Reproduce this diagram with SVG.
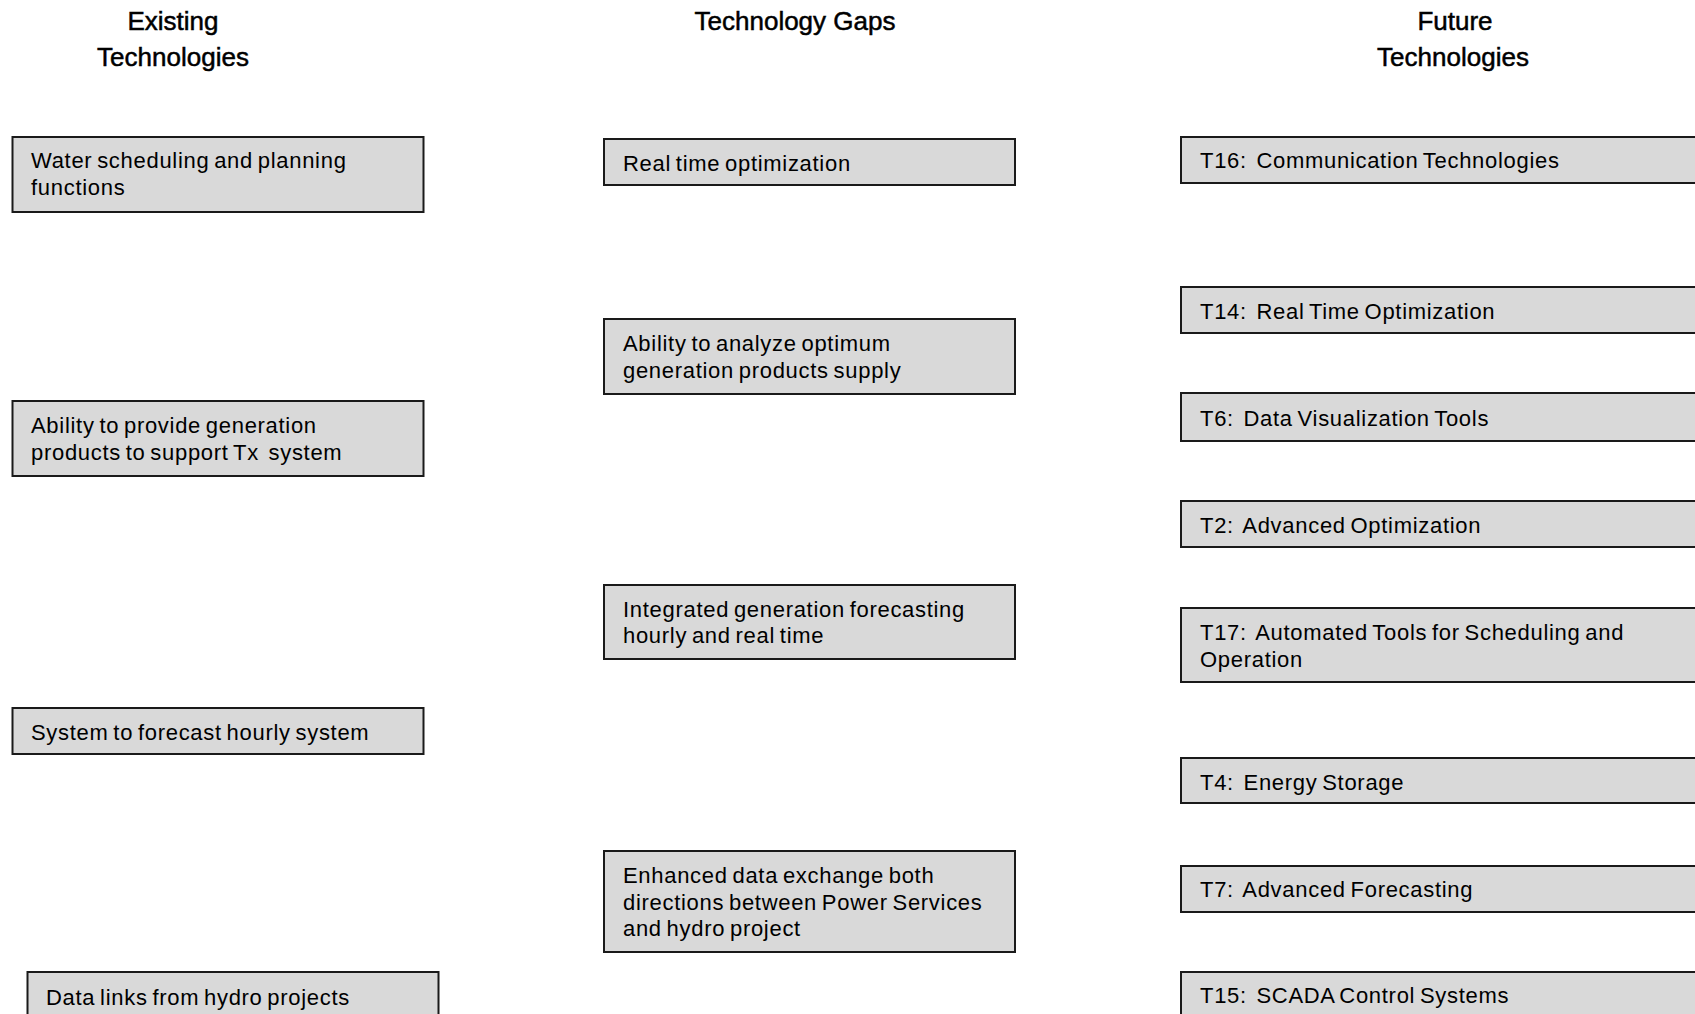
<svg xmlns="http://www.w3.org/2000/svg" width="1695" height="1014" viewBox="0 0 1695 1014" xml:space="preserve">
<style>
.hd{font-family:"Liberation Sans",Arial,sans-serif;font-size:26px;fill:#000;stroke:#000;stroke-width:0.5;text-anchor:middle}
.bx{fill:#d9d9d9;stroke:#1a1a1a;stroke-width:2}
.tx{font-family:"Liberation Sans",Arial,sans-serif;font-size:22px;fill:#000;letter-spacing:0.7px;word-spacing:-2px;white-space:pre}
</style>
<rect x="0" y="0" width="1695" height="1014" fill="#fff"/>
<g id="headers">
<text class="hd" x="173" y="30">Existing</text>
<text class="hd" x="173" y="66">Technologies</text>
<text class="hd" x="795" y="30">Technology Gaps</text>
<text class="hd" x="1455" y="30">Future</text>
<text class="hd" x="1453" y="66">Technologies</text>
</g>
<g id="connectors"></g>
<g id="e1"><rect class="bx" x="12.5" y="137" width="411" height="75"/><text class="tx" x="31" y="168">Water scheduling and planning</text><text class="tx" x="31" y="195">functions</text></g>
<g id="e2"><rect class="bx" x="12.5" y="401" width="411" height="75"/><text class="tx" x="31" y="433">Ability to provide generation</text><text class="tx" x="31" y="460">products to support Tx  system</text></g>
<g id="e3"><rect class="bx" x="12.5" y="708" width="411" height="46"/><text class="tx" x="31" y="740">System to forecast hourly system</text></g>
<g id="e4"><rect class="bx" x="27.5" y="972" width="411" height="60"/><text class="tx" x="46" y="1005">Data links from hydro projects</text></g>
<g id="g1"><rect class="bx" x="604" y="139" width="411" height="46"/><text class="tx" x="623" y="171">Real time optimization</text></g>
<g id="g2"><rect class="bx" x="604" y="319" width="411" height="75"/><text class="tx" x="623" y="351">Ability to analyze optimum</text><text class="tx" x="623" y="378">generation products supply</text></g>
<g id="g3"><rect class="bx" x="604" y="585" width="411" height="74"/><text class="tx" x="623" y="617">Integrated generation forecasting</text><text class="tx" x="623" y="643">hourly and real time</text></g>
<g id="g4"><rect class="bx" x="604" y="851" width="411" height="101"/><text class="tx" x="623" y="883">Enhanced data exchange both</text><text class="tx" x="623" y="910">directions between Power Services</text><text class="tx" x="623" y="936">and hydro project</text></g>
<g id="f1"><rect class="bx" x="1181" y="137" width="530" height="46"/><text class="tx" x="1200" y="168">T16:  Communication Technologies</text></g>
<g id="f2"><rect class="bx" x="1181" y="287" width="530" height="46"/><text class="tx" x="1200" y="319">T14:  Real Time Optimization</text></g>
<g id="f3"><rect class="bx" x="1181" y="393" width="530" height="48"/><text class="tx" x="1200" y="426">T6:  Data Visualization Tools</text></g>
<g id="f4"><rect class="bx" x="1181" y="501" width="530" height="46"/><text class="tx" x="1200" y="533">T2:  Advanced Optimization</text></g>
<g id="f5"><rect class="bx" x="1181" y="608" width="530" height="74"/><text class="tx" x="1200" y="640">T17:  Automated Tools for Scheduling and</text><text class="tx" x="1200" y="667">Operation</text></g>
<g id="f6"><rect class="bx" x="1181" y="758" width="530" height="45"/><text class="tx" x="1200" y="790">T4:  Energy Storage</text></g>
<g id="f7"><rect class="bx" x="1181" y="866" width="530" height="46"/><text class="tx" x="1200" y="897">T7:  Advanced Forecasting</text></g>
<g id="f8"><rect class="bx" x="1181" y="972" width="530" height="60"/><text class="tx" x="1200" y="1003">T15:  SCADA Control Systems</text></g>
</svg>
